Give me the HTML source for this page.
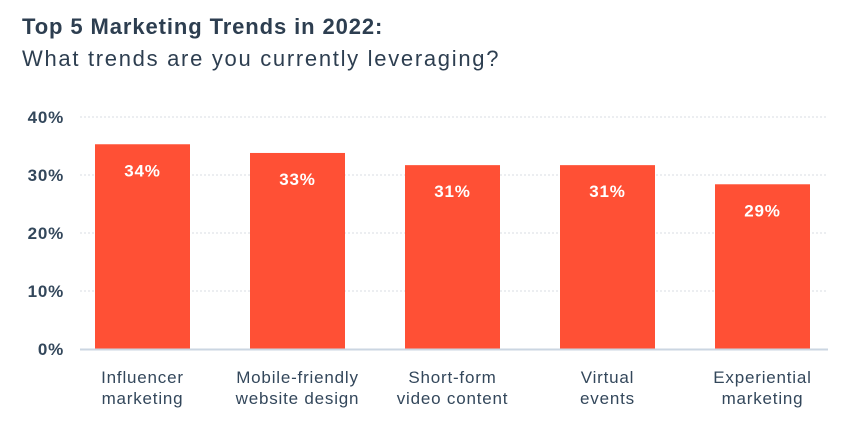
<!DOCTYPE html>
<html><head><meta charset="utf-8"><style>
body{margin:0;background:#fff;font-family:"Liberation Sans",sans-serif;}
#wrap{position:relative;width:850px;height:428px;overflow:hidden;background:#fff}
</style></head><body>
<div id="wrap">
<svg id="chart" width="850" height="428">
<text x="22" y="34" font-size="22" font-weight="bold" letter-spacing="0.9" fill="#2d3e50">Top 5 Marketing Trends in 2022:</text>
<text x="22" y="66" font-size="22" letter-spacing="1.7" fill="#2d3e50">What trends are you currently leveraging?</text>
</svg>
</div>
<script>
const categories=[["Influencer","marketing"],["Mobile-friendly","website design"],["Short-form","video content"],["Virtual","events"],["Experiential","marketing"]];
const values=[35.3,33.8,31.7,31.7,28.4];
const valueLabels=["34%","33%","31%","31%","29%"];
const yTicks=[0,10,20,30,40];
const yTickLabels=["0%","10%","20%","30%","40%"];
const svg=document.getElementById('chart');
const NS='http://www.w3.org/2000/svg';
const x0=80,x1=828,yBase=349,yTop=117,yMax=40;
const bandStart=65,band=155,bw=95;
const y=v=>yBase-(v/yMax)*(yBase-yTop);
const cx=i=>bandStart+band*i+band/2;
function mk(t,a){const e=document.createElementNS(NS,t);for(const k in a)e.setAttribute(k,a[k]);svg.appendChild(e);return e;}
yTicks.forEach((t,i)=>{
 if(t>0){const g=mk('line',{x1:x0,x2:x1,y1:y(t),y2:y(t),stroke:'#d8dde3','stroke-dasharray':'2,2','stroke-width':1});
 
 }
 const l=mk('text',{x:64,y:y(t)+6,'text-anchor':'end','font-size':17,'font-weight':'bold','letter-spacing':0.8,fill:'#33475b'});
 l.textContent=yTickLabels[i];
 
 
});
values.forEach((v,i)=>{
 const r=mk('rect',{x:cx(i)-bw/2,y:y(v),width:bw,height:yBase-y(v),fill:'#ff5035'});
 
 
 const t=mk('text',{x:cx(i),y:y(v)+32,'text-anchor':'middle','font-size':17,'font-weight':'bold','letter-spacing':0.8,fill:'#fff'});
 t.textContent=valueLabels[i];
 
 
 categories[i].forEach((s,j)=>{
  const c=mk('text',{x:cx(i),y:383+j*21,'text-anchor':'middle','font-size':17,'letter-spacing':0.8,fill:'#33475b'});
  c.textContent=s;
  
  
 });
});
const ax=mk('line',{x1:x0,x2:x1,y1:yBase+0.5,y2:yBase+0.5,stroke:'#cbd6e2','stroke-width':2});


</script>
</body></html>
